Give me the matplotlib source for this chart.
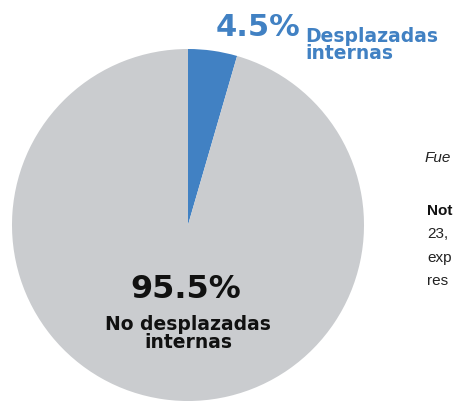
import matplotlib
matplotlib.use("Agg")
import matplotlib.pyplot as plt

labels = ["Desplazadas\ninternas", "No desplazadas\ninternas"]
values = [4.5, 95.5]
colors = ["#4181c3", "#cacccf"]

W, H = 455, 403
fig = plt.figure(figsize=(W / 100, H / 100), dpi=100)
ax = fig.add_axes([0, 0, 1, 1])
ax.pie(values, colors=colors, startangle=90, counterclock=False,
       center=(188, -225), radius=176,
       wedgeprops=dict(linewidth=0))
ax.set_xlim(0, W)
ax.set_ylim(-H, 0)
ax.set_aspect("equal")
ax.axis("off")

fam = ["DejaVu Sans"]
# small slice label
ax.text(216, -36, f"{values[0]}%", color="#4181c3", fontsize=22,
        fontweight="bold", family=fam, va="baseline", ha="left")
ax.text(305, -59, labels[0], color="#4181c3", fontsize=13.5,
        fontweight="bold", family=fam, va="baseline", ha="left", linespacing=0.9)

# large slice label
ax.text(186, -298, f"{values[1]}%", color="#111111", fontsize=23,
        fontweight="bold", family=fam, va="baseline", ha="center")
ax.text(188, -348, labels[1], color="#111111", fontsize=13.5,
        fontweight="bold", family=fam, va="baseline", ha="center", linespacing=0.9,
        multialignment="center")

# right notes (visible part only, cut by the image edge in the reference)
tf = ["Liberation Sans"]
ax.text(425, -162, "Fue", fontsize=11, style="italic", family=tf, color="#222222")
ax.text(427, -215, "Not", fontsize=11, fontweight="bold", family=tf, color="#111111")
ax.text(427, -238, "23,", fontsize=11, family=tf, color="#222222")
ax.text(427, -262, "exp", fontsize=11, family=tf, color="#222222")
ax.text(427, -285, "res", fontsize=11, family=tf, color="#222222")

fig.savefig("out.png", dpi=100)
